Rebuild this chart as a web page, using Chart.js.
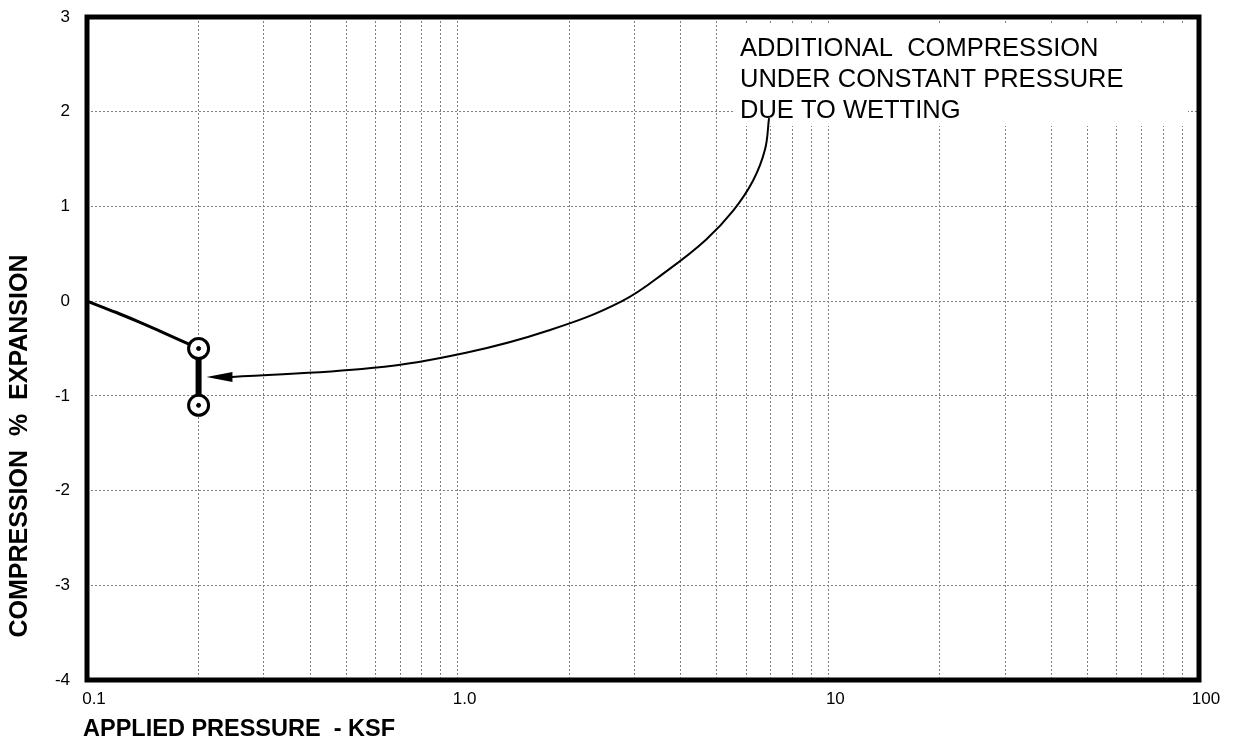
<!DOCTYPE html>
<html>
<head>
<meta charset="utf-8">
<script src="https://cdn.jsdelivr.net/npm/chart.js@4.4.1/dist/chart.umd.min.js"></script>
<style>
    html, body { margin: 0; padding: 0; background: #fff; }
    #wrap { width: 1233px; height: 742px; }
</style>
</head>
<body>
<div id="wrap"><canvas id="consol"></canvas></div>
<script>
// axis ranges
const xMin = 0.1, xMax = 100
const yMin = -4, yMax = 3
const decades = [0.1, 1, 10]
const minorSteps = [1, 2, 3, 4, 5, 6, 7, 8, 9]
const xLabelValues = [0.1, 1, 10, 100]
const xLabelText = ['0.1', '1.0', '10', '100']

// consolidation curve (pressure ksf, % strain)
const loadX = [0.1, 0.12, 0.14, 0.16, 0.18, 0.2]
const loadY = [0, -0.12, -0.23, -0.33, -0.42, -0.5]
// wetting step at constant pressure
const wetX = [0.2, 0.2]
const wetY = [-0.5, -1.1]

// leader line for the note
const leadX = [0.246, 0.584, 1.053, 1.775, 2.776, 3.693, 4.677, 5.531, 6.262, 6.747, 6.918]
const leadY = [-0.8, -0.706, -0.545, -0.305, 0, 0.328, 0.649, 0.953, 1.271, 1.6, 1.933]
const arrowTip = [0.21, -0.8]
const noteLines = ['ADDITIONAL  COMPRESSION', 'UNDER CONSTANT PRESSURE', 'DUE TO WETTING']

const FONT = 'Arial, "Liberation Sans", sans-serif'

const gridValues = []
decades.forEach((d) => minorSteps.forEach((m) => gridValues.push(+(d * m).toPrecision(3))))
gridValues.push(xMax)

const pts = (xs, ys) => xs.map((x, i) => ({ x: x, y: ys[i] }))

const extras = {
    id: 'extras',
    beforeDatasetsDraw(chart) {
        const ctx = chart.ctx, a = chart.chartArea
        // white box behind note
        ctx.save()
        ctx.fillStyle = '#fff'
        ctx.fillRect(a.left + 646, a.top + 6, 455, 103)
        ctx.fillStyle = '#000'
        ctx.font = '25.5px ' + FONT
        ctx.textBaseline = 'alphabetic'
        noteLines.forEach((t, i) => ctx.fillText(t, a.left + 653, a.top + 39 + i * 31))
        ctx.restore()
    },
    afterDatasetsDraw(chart) {
        const ctx = chart.ctx, a = chart.chartArea
        const xs = chart.scales.x, ys = chart.scales.y
        // arrow head
        const tx = xs.getPixelForValue(arrowTip[0]), ty = ys.getPixelForValue(arrowTip[1])
        ctx.save()
        ctx.fillStyle = '#000'
        ctx.beginPath()
        ctx.moveTo(tx, ty)
        ctx.lineTo(tx + 26, ty - 5)
        ctx.lineTo(tx + 26, ty + 5)
        ctx.closePath()
        ctx.fill()
        // frame
        ctx.strokeStyle = '#000'
        ctx.lineWidth = 5
        ctx.strokeRect(a.left, a.top, a.right - a.left, a.bottom - a.top)
        // axis titles
        ctx.font = 'bold 23.5px ' + FONT
        ctx.textBaseline = 'alphabetic'
        ctx.fillText('APPLIED PRESSURE  - KSF', 83, 736)
        ctx.translate(27, 446)
        ctx.rotate(-Math.PI / 2)
        ctx.textAlign = 'center'
        ctx.font = 'bold 25px ' + FONT
        ctx.fillText('COMPRESSION  %  EXPANSION', 0, 0)
        ctx.restore()
    },
}

new Chart(document.getElementById('consol'), {
    type: 'line',
    data: {
        datasets: [
            {
                data: pts(wetX, wetY),
                showLine: false,
                pointRadius: 2,
                pointBackgroundColor: '#000',
                pointBorderColor: '#000',
            },
            {
                data: pts(wetX, wetY),
                borderColor: '#000',
                borderWidth: 6,
                pointRadius: 10,
                pointBorderWidth: 3,
                pointBackgroundColor: '#fff',
                pointBorderColor: '#000',
            },
            {
                data: pts(loadX, loadY),
                borderColor: '#000',
                borderWidth: 3,
                pointRadius: 0,
                tension: 0.4,
            },
            {
                data: pts(leadX, leadY),
                borderColor: '#000',
                borderWidth: 2,
                pointRadius: 0,
                tension: 0.4,
            },
        ],
    },
    options: {
        responsive: true,
        maintainAspectRatio: false,
        animation: false,
        events: [],
        layout: { padding: { top: 17, right: 34, left: 0, bottom: 0 } },
        plugins: { legend: { display: false }, tooltip: { enabled: false } },
        scales: {
            x: {
                type: 'logarithmic',
                min: xMin,
                max: xMax,
                afterBuildTicks: (s) => { s.ticks = gridValues.map((v) => ({ value: v })) },
                afterFit: (s) => {
                    s.height = 62
                    s.paddingTop = 0
                    s.paddingBottom = 0
                },
                grid: { color: '#808080', lineWidth: 1, drawTicks: false },
                border: { display: false, dash: [2, 2] },
                ticks: {
                    autoSkip: false,
                    maxRotation: 0,
                    padding: 9,
                    labelOffset: 7,
                    color: '#000',
                    font: { family: FONT, size: 17 },
                    callback: (v) => {
                        const i = xLabelValues.findIndex((l) => Math.abs(l - v) < l * 1e-6)
                        return i < 0 ? '' : xLabelText[i]
                    },
                },
            },
            y: {
                min: yMin,
                max: yMax,
                afterFit: (s) => {
                    s.width = 87
                    s.paddingTop = 0
                    s.paddingBottom = 0
                },
                grid: { color: '#808080', lineWidth: 1, drawTicks: false },
                border: { display: false, dash: [2, 2] },
                ticks: {
                    stepSize: 1,
                    padding: 17,
                    color: '#000',
                    font: { family: FONT, size: 17 },
                },
            },
        },
    },
    plugins: [extras],
})
</script>
</body>
</html>
